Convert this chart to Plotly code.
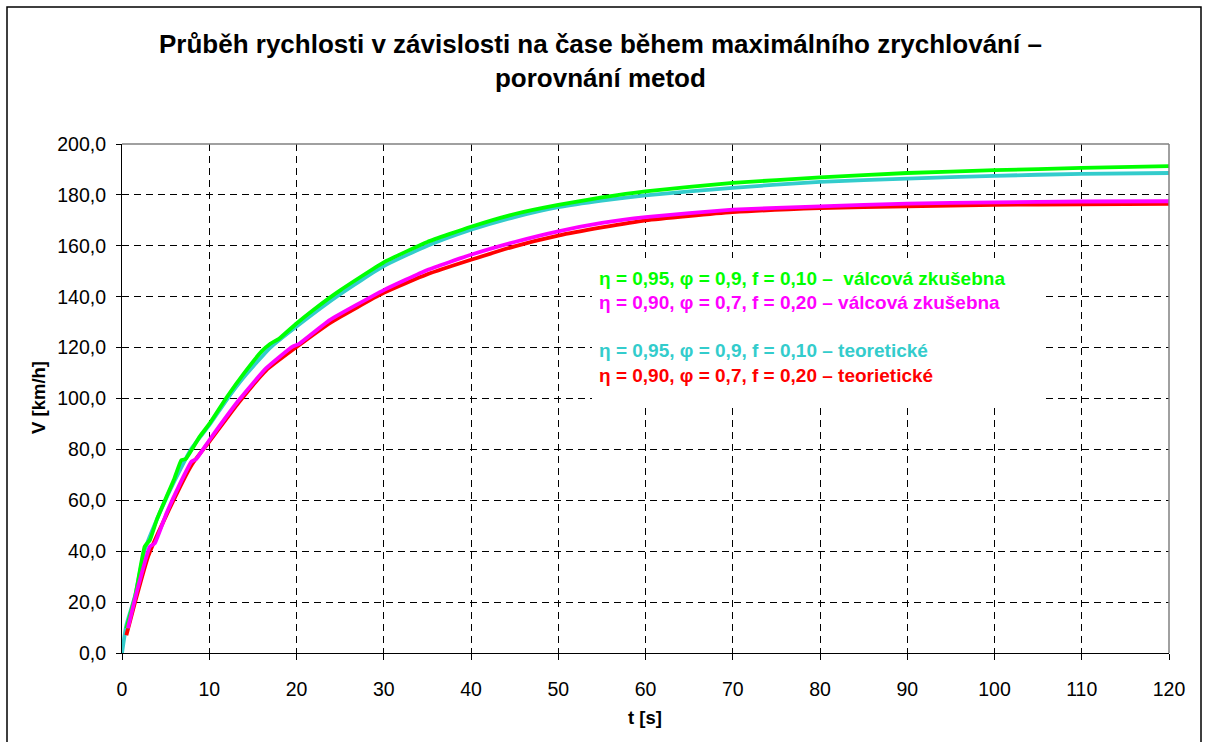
import plotly.graph_objects as go

# --- data ---
t_green = [0.5, 1.5, 2.6, 3.2, 4.0, 5.1, 6.0, 6.8, 7.3, 8.9, 10, 12, 14, 16, 17, 18, 20, 22, 25, 30, 35, 40, 45, 50, 55, 60, 70, 80, 90, 100, 110, 120]
v_green = [9.7, 22.1, 41.8, 44.4, 52.5, 61.4, 68.5, 75.8, 76.2, 85.0, 90.0, 100.5, 110.0, 118.5, 121.5, 123.5, 129.5, 135.0, 142.5, 153.5, 161.5, 167.5, 172.5, 176.1, 179.0, 181.4, 184.7, 186.9, 188.6, 189.7, 190.6, 191.3]

t_magenta = [0.67, 1.65, 3.2, 3.75, 5.1, 6.5, 7.96, 8.5, 10, 13.4, 16.5, 19.5, 20.3, 23.8, 30, 35, 40, 45, 50, 55, 60, 70, 80, 90, 100, 110, 120]
v_magenta = [9.7, 23.5, 41.8, 43.1, 54.9, 65.5, 75.2, 76.2, 83.6, 99.4, 111.8, 120.3, 121.5, 130.8, 142.6, 150.5, 156.5, 161.5, 165.7, 169.0, 171.3, 174.2, 175.5, 176.6, 177.1, 177.4, 177.5]

t_cyan = [0, 0.5, 1.5, 2.6, 4.0, 6.0, 8.0, 10, 12, 14, 17, 20, 25, 30, 35, 40, 45, 50, 55, 60, 70, 80, 90, 100, 110, 120]
v_cyan = [0.0, 10.9, 22.5, 40.5, 52.5, 67.5, 80.5, 89.5, 99.5, 108.5, 120.0, 128.3, 141.0, 152.0, 160.0, 166.3, 171.3, 175.2, 177.8, 179.8, 182.8, 185.1, 186.4, 187.5, 188.3, 188.6]

t_red = [0.5, 1.5, 3.0, 5.0, 8.0, 10, 13.4, 16.5, 20, 24, 30, 35, 40, 45, 50, 55, 60, 70, 80, 90, 100, 110, 120]
v_red = [7.0, 20.0, 38.0, 53.5, 74.0, 83.0, 98.5, 111.0, 120.2, 130.0, 141.5, 148.8, 154.5, 159.8, 164.0, 167.2, 170.0, 173.2, 174.8, 175.5, 176.1, 176.3, 176.5]

legend_texts = [
    "η = 0,95, φ = 0,9, f = 0,10 –  válcová zkušebna",
    "η = 0,90, φ = 0,7, f = 0,20 – válcová zkušebna",
    "η = 0,95, φ = 0,9, f = 0,10 – teoretické",
    "η = 0,90, φ = 0,7, f = 0,20 – teorietické",
]

x_ticks = [0, 10, 20, 30, 40, 50, 60, 70, 80, 90, 100, 110, 120]
y_ticks = [0, 20, 40, 60, 80, 100, 120, 140, 160, 180, 200]
y_ticktext = ["0,0", "20,0", "40,0", "60,0", "80,0", "100,0", "120,0", "140,0", "160,0", "180,0", "200,0"]

title_text = "Průběh rychlosti v závislosti na čase během maximálního zrychlování –<br>porovnání metod"

FONT = "Liberation Sans, Arial, sans-serif"
C_GREEN = "#00FF00"
C_MAGENTA = "#FF00FF"
C_CYAN = "#33CCCC"
C_RED = "#FF0000"

fig = go.Figure()
fig.add_trace(go.Scatter(x=t_cyan, y=v_cyan, mode="lines", line=dict(color=C_CYAN, width=3.8, shape="spline", smoothing=0.5)))
fig.add_trace(go.Scatter(x=t_red, y=v_red, mode="lines", line=dict(color=C_RED, width=3.8, shape="spline", smoothing=0.5)))
fig.add_trace(go.Scatter(x=t_green, y=v_green, mode="lines", line=dict(color=C_GREEN, width=3.8, shape="spline", smoothing=0.4)))
fig.add_trace(go.Scatter(x=t_magenta, y=v_magenta, mode="lines", line=dict(color=C_MAGENTA, width=3.8, shape="spline", smoothing=0.4)))

L, R, T, B = 122, 36, 144, 89
W, H = 1205, 742
pw = W - L - R
ph = H - T - B

def px(xp):
    return (xp - L) / pw

def py(yp):
    return (H - B - yp) / ph

fig.update_layout(
    width=W, height=H,
    margin=dict(l=L, r=R, t=T, b=B),
    paper_bgcolor="white", plot_bgcolor="white",
    showlegend=False,
    font=dict(family=FONT, size=19, color="black"),
    xaxis=dict(range=[0, 120], tickvals=x_ticks, ticktext=[str(v) for v in x_ticks],
               showline=True, linecolor="black", linewidth=1.2,
               ticks="outside", ticklen=6, tickcolor="black",
               showgrid=True, gridcolor="black", gridwidth=1, griddash="7px,5px",
               zeroline=False, ticklabelstandoff=12, tickfont=dict(size=19.5)),
    yaxis=dict(range=[0, 200], tickvals=y_ticks, ticktext=y_ticktext,
               showline=True, linecolor="black", linewidth=1.2,
               ticks="outside", ticklen=5, tickcolor="black",
               showgrid=True, gridcolor="black", gridwidth=1, griddash="7px,5px",
               zeroline=False, ticklabelstandoff=6, tickfont=dict(size=19.5)),
)

# plot area top/right border (gray) and outer frame
fig.add_shape(type="line", xref="paper", yref="paper", x0=0, x1=1, y0=1, y1=1, line=dict(color="#808080", width=1.5))
fig.add_shape(type="line", xref="paper", yref="paper", x0=1, x1=1, y0=0, y1=1, line=dict(color="#808080", width=1.5))
fig.add_shape(type="rect", xref="paper", yref="paper", x0=px(7), x1=px(1201), y0=py(7), y1=py(760),
              line=dict(color="black", width=1.5), fillcolor="rgba(0,0,0,0)", layer="above")
# white legend box (covers gridlines)
fig.add_shape(type="rect", xref="paper", yref="paper", x0=px(592), x1=px(1043), y0=py(258), y1=py(403),
              line=dict(width=0), fillcolor="white", layer="above")

# title
fig.add_annotation(xref="paper", yref="paper", x=px(600), y=py(61), text="<b>" + title_text + "</b>",
                   showarrow=False, font=dict(size=26, family=FONT, color="black"),
                   xanchor="center", yanchor="middle", align="center")
# axis titles
fig.add_annotation(xref="paper", yref="paper", x=px(645), y=py(717), text="<b>t [s]</b>",
                   showarrow=False, font=dict(size=18.5, family=FONT), xanchor="center", yanchor="middle")
fig.add_annotation(xref="paper", yref="paper", x=px(38), y=py(398), text="<b>V [km/h]</b>", textangle=-90,
                   showarrow=False, font=dict(size=18.5, family=FONT), xanchor="center", yanchor="middle")

# legend-like texts
leg_y = [278, 302, 350, 375]
leg_c = [C_GREEN, C_MAGENTA, C_CYAN, C_RED]
for txt, yy, cc in zip(legend_texts, leg_y, leg_c):
    fig.add_annotation(xref="paper", yref="paper", x=px(597), y=py(yy), text="<b>" + txt + "</b>",
                       showarrow=False, font=dict(size=19, family=FONT, color=cc),
                       xanchor="left", yanchor="middle")

fig.write_html("out.html")
